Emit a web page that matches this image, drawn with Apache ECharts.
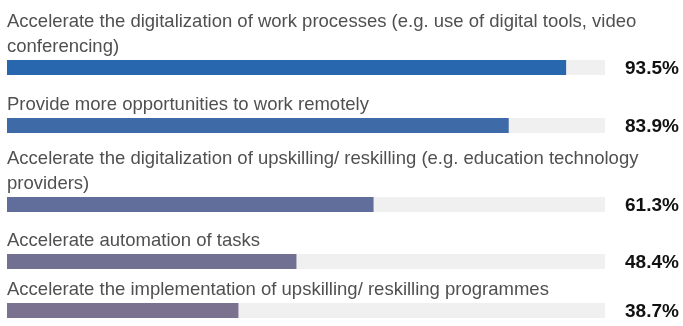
<!DOCTYPE html>
<html>
<head>
<meta charset="utf-8">
<script src="https://cdn.jsdelivr.net/npm/echarts@6/dist/echarts.min.js"></script>
<style>html,body{margin:0;padding:0;background:#fff}#c{width:683px;height:326px}</style>
</head>
<body>
<div id="c"></div>
<script>
var categories = [
  "Accelerate the digitalization of work processes (e.g. use of digital tools, video\nconferencing)",
  "Provide more opportunities to work remotely",
  "Accelerate the digitalization of upskilling/ reskilling (e.g. education technology\nproviders)",
  "Accelerate automation of tasks",
  "Accelerate the implementation of upskilling/ reskilling programmes"
];
var values = [93.5, 83.9, 61.3, 48.4, 38.7];
var barColors = ["#2866ae", "#3e6aa8", "#616d9b", "#717093", "#7b728f"];
var gridTops = [60, 118, 197, 254, 303];

var chart = echarts.init(document.getElementById('c'), null, {renderer: 'canvas'});
var grids = [], xAxes = [], yAxes = [], series = [];
var FONT = "'Liberation Sans', Arial, Helvetica, sans-serif";
categories.forEach(function (cat, i) {
  grids.push({left: 7, right: 78, top: gridTops[i], height: 15, containLabel: false});
  xAxes.push({type: 'value', gridIndex: i, min: 0, max: 100, show: false});
  yAxes.push({type: 'category', gridIndex: i, data: [cat], show: false});
  series.push({
    type: 'bar', xAxisIndex: i, yAxisIndex: i, barWidth: 15, barGap: '-100%',
    silent: true, data: [100], itemStyle: {color: '#f0f0f0'},
    label: {
      show: true, position: 'right', distance: 20, offset: [0, 1],
      formatter: function () { return values[i].toFixed(1) + '%'; },
      fontFamily: FONT, fontSize: 19, fontWeight: 'bold', color: '#111111'
    },
    z: 1
  });
  series.push({
    type: 'bar', xAxisIndex: i, yAxisIndex: i, barWidth: 15, barGap: '-100%',
    silent: true, data: [values[i]], itemStyle: {color: barColors[i]},
    label: {
      show: true, position: [0, 0], align: 'left', verticalAlign: 'bottom', offset: [0, -1],
      formatter: function () { return cat; },
      fontFamily: FONT, fontSize: 18.5, lineHeight: 25, color: '#505050'
    },
    z: 2
  });
});
chart.setOption({
  animation: false,
  grid: grids, xAxis: xAxes, yAxis: yAxes, series: series
});
</script>
</body>
</html>
